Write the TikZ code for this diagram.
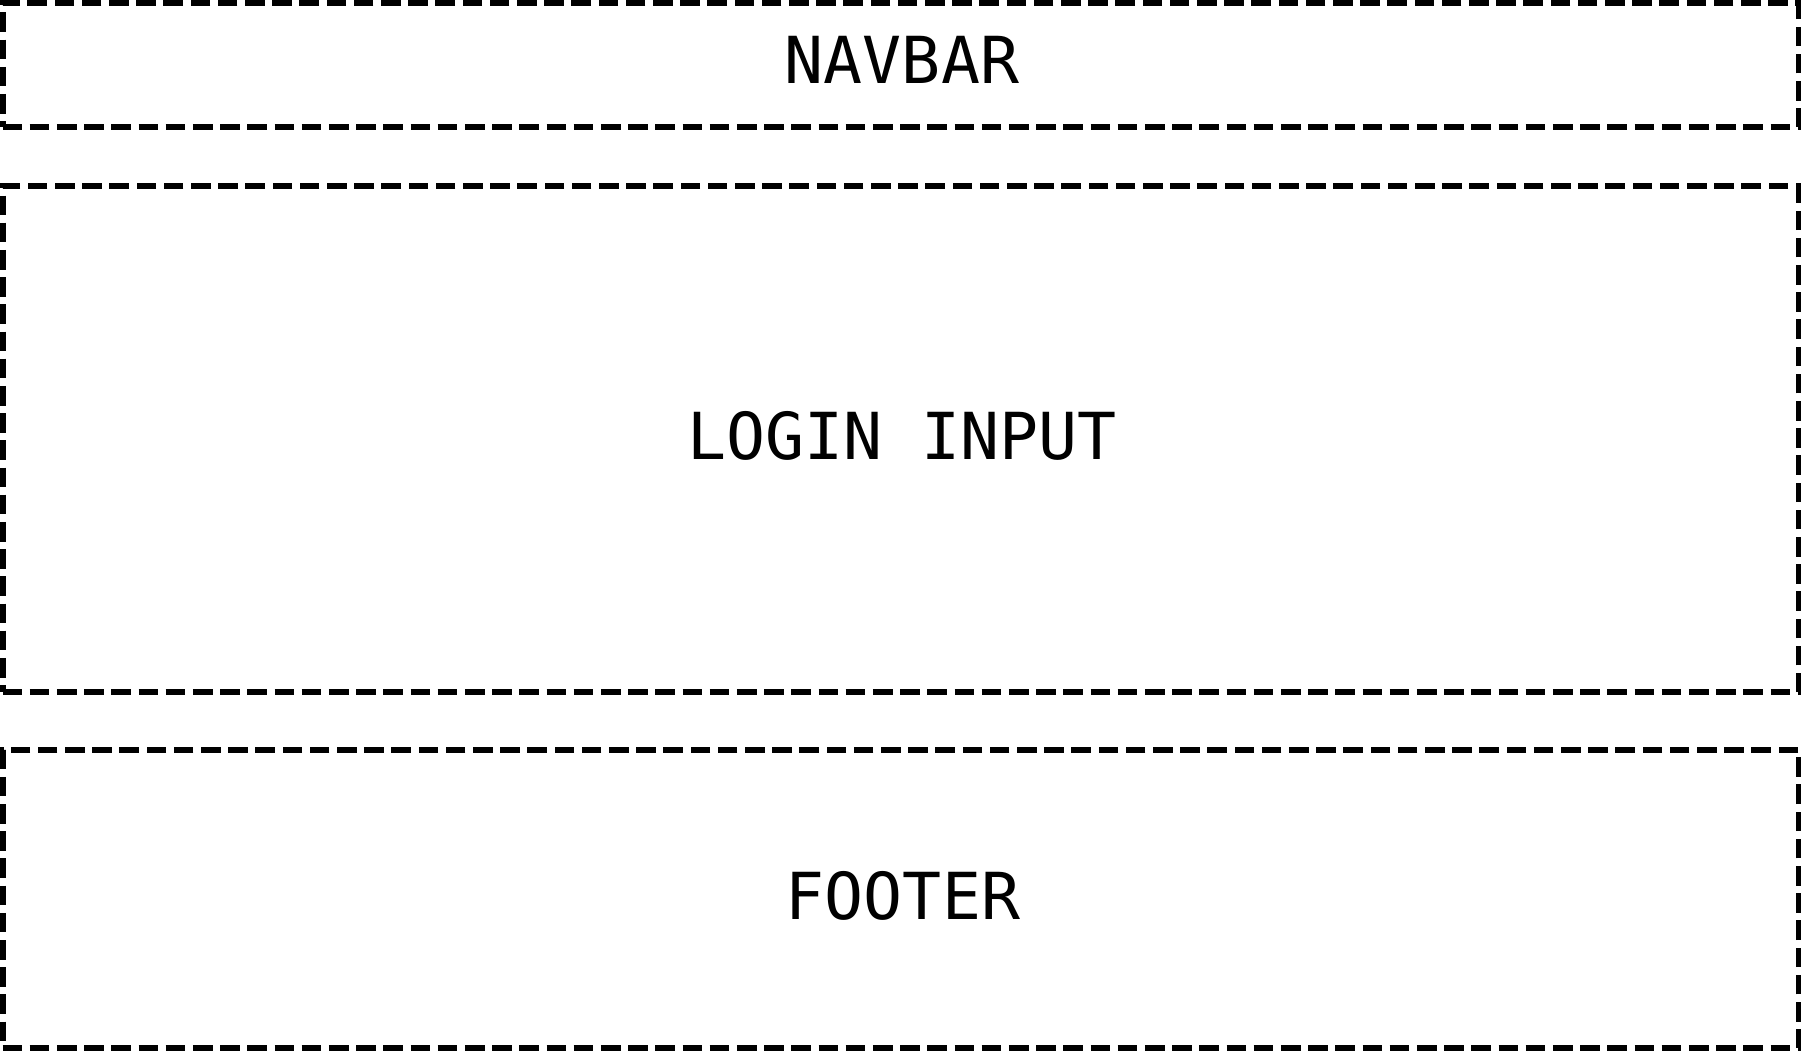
\documentclass[tikz,border=0pt]{standalone}
\usepackage{fontspec}
\newfontfamily\boxfont{DejaVu Sans Mono}
\begin{document}
\begin{tikzpicture}[x=1pt,y=1pt,
  panel/.style={draw=black, line width=3pt, dash pattern=on 9.8pt off 3.8pt, rectangle, inner sep=0pt, outer sep=0pt, minimum width=898pt},
  lbl/.style={anchor=base, inner sep=0pt, font=\boxfont\fontsize{32.4}{38}\selectfont, text=black}]
\useasboundingbox (0,0) rectangle (900.5,-525.5);
\node[panel, minimum height=62.25pt] (navbar) at (450.25,-32.375) {};
\node[panel, minimum height=252.85pt] (login) at (450.25,-219.43) {};
\node[panel, minimum height=149pt] (footer) at (450.25,-449.5) {};
\node[lbl] (navtext) at (451,-41.65) {NAVBAR};
\node[lbl] (logintext) at (451.2,-229.5) {LOGIN INPUT};
\node[lbl] (footertext) at (451.5,-459.5) {FOOTER};
\end{tikzpicture}
\end{document}
